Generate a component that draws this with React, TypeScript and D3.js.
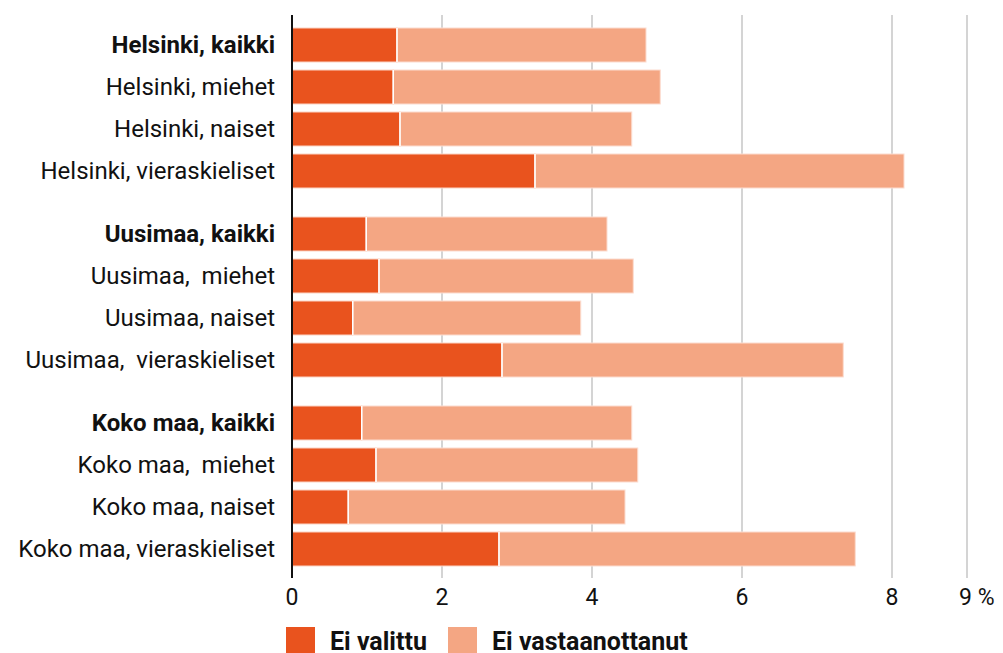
import React from "react";
import * as d3 from "d3";

const categories = [
  "Helsinki, kaikki",
  "Helsinki, miehet",
  "Helsinki, naiset",
  "Helsinki, vieraskieliset",
  "Uusimaa, kaikki",
  "Uusimaa,  miehet",
  "Uusimaa, naiset",
  "Uusimaa,  vieraskieliset",
  "Koko maa, kaikki",
  "Koko maa,  miehet",
  "Koko maa, naiset",
  "Koko maa, vieraskieliset",
];
const boldRows = ["Helsinki, kaikki", "Uusimaa, kaikki", "Koko maa, kaikki"];

// % ei valittu
const eiValittu = [1.4, 1.35, 1.44, 3.24, 0.99, 1.16, 0.81, 2.8, 0.93, 1.12, 0.75, 2.76];
// % ei vastaanottanut
const eiVastaanottanut = [3.32, 3.56, 3.09, 4.92, 3.21, 3.39, 3.04, 4.55, 3.6, 3.49, 3.69, 4.75];

const tickValues = [0, 2, 4, 6, 8, 9];
const seriesNames = ["Ei valittu", "Ei vastaanottanut"];
const colors = ["#e9531e", "#f4a683"];

export default function App() {
  const width = 1003, height = 653;
  const x = d3.scaleLinear().domain([0, 9]).range([292, 967]);
  // slot index with a half-row gap between groups
  const slot = (i: number) => i + Math.floor(i / 4) * 0.5;
  const y = d3.scaleLinear().domain([0, 12]).range([28, 532]);
  const barH = 34;
  const top = 15, bottom = 578;
  const font = "Roboto, sans-serif";

  const rows = categories.map((c, i) => ({
    name: c,
    a: eiValittu[i],
    b: eiVastaanottanut[i],
    y: y(slot(i)),
  }));

  return (
    <svg width={width} height={height} style={{ position: "absolute", left: 0, top: 0 }}>
      {tickValues.filter(t => t > 0).map(t => (
        <line key={t} x1={x(t)} x2={x(t)} y1={top} y2={bottom} stroke="#c6c6c6" strokeWidth={1.5} />
      ))}
      {rows.map(r => (
        <g key={r.name}>
          <rect x={x(0)} y={r.y} width={x(r.a) - x(0)} height={barH} fill={colors[0]}
            stroke="#fbd4c4" strokeWidth={1} />
          <rect x={x(r.a)} y={r.y} width={x(r.a + r.b) - x(r.a)} height={barH} fill={colors[1]}
            stroke="#fcdccf" strokeWidth={1} />
          <line x1={x(r.a)} x2={x(r.a)} y1={r.y} y2={r.y + barH} stroke="#fff" strokeWidth={1.5} />
          <text x={275} y={r.y + barH / 2} dy="0.35em" textAnchor="end" fontFamily={font}
            fontSize={24} fontWeight={boldRows.includes(r.name) ? 700 : 400} fill="#111"
            style={{ whiteSpace: "pre" }}>
            {r.name}
          </text>
        </g>
      ))}
      <line x1={x(0)} x2={x(0)} y1={top} y2={bottom} stroke="#111" strokeWidth={2} />
      {tickValues.map(t => (
        <text key={t} x={x(t)} y={605} textAnchor={t === 9 ? "start" : "middle"} dx={t === 9 ? -8 : 0}
          fontFamily={font} fontSize={23} fill="#111">
          {t === 9 ? "9 %" : t}
        </text>
      ))}
      {seriesNames.map((s, i) => {
        const lx = i === 0 ? 286 : 448;
        return (
          <g key={s}>
            <rect x={lx} y={627} width={29} height={30} fill={colors[i]} />
            <text x={lx + 44} y={650} fontFamily={font} fontSize={25} fontWeight={700} fill="#111">
              {s}
            </text>
          </g>
        );
      })}
    </svg>
  );
}
